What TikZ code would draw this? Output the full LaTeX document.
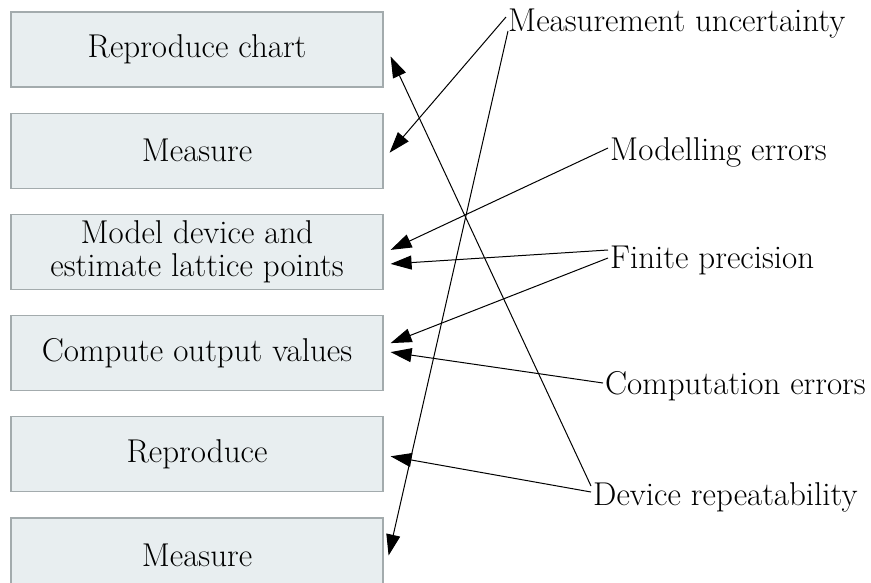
\documentclass[tikz,border=0pt]{standalone}
\usepackage{xcolor}
\definecolor{boxfill}{HTML}{E8EEF0}
\definecolor{boxedge}{HTML}{A3ABAD}
\usepackage{tikz}
\usetikzlibrary{arrows.meta,positioning}

\begin{document}
\begin{tikzpicture}[
    x=1pt, y=-1pt,
    node distance=25pt,
    stage/.style={rectangle, draw=boxedge, line width=1.2pt, fill=boxfill, minimum width=372pt, minimum height=75pt, inner sep=0pt, align=center, font=\fontsize{33}{33}\selectfont},
    cause/.style={anchor=west, inner sep=2pt, font=\fontsize{33}{33}\selectfont},
    line/.style={draw, line width=1pt, -{Triangle[length=21pt, width=14pt]}}
  ]
    \useasboundingbox (0,0) rectangle (871,582);
    \clip (0,0) rectangle (871,582);

    % Nodes - process steps
    \node [stage] at (197,49.5) (chart) {Reproduce chart};
    \node [stage, below=of chart] (meas1) {Measure};
    \node [stage, below=of meas1] (model) {Model device and\\estimate lattice points};
    \node [stage, below=of model] (comp) {Compute output values};
    \node [stage, below=of comp] (repro) {Reproduce};
    \node [stage, below=of repro] (meas2) {Measure};

    % Nodes - error sources
    \node [cause] at (506,24) (unc) {Measurement uncertainty};
    \node [cause] at (608,152) (mod) {Modelling errors};
    \node [cause] at (608,260) (fin) {Finite precision};
    \node [cause] at (603,386) (cerr) {Computation errors};
    \node [cause] at (591,497) (dev) {Device repeatability};

    % Paths
    \path [line] ([yshift=7pt]unc.west) -- ([xshift=6pt, yshift=-2pt]meas1.east);
    \path [line] ([xshift=2pt, yshift=-7pt]unc.west) -- ([xshift=5pt]meas2.east);
    \path [line] ([yshift=4pt]mod.west) -- ([xshift=7pt, yshift=2pt]model.east);
    \path [line] ([yshift=10pt]fin.west) -- ([xshift=7pt, yshift=-12pt]model.east);
    \path [line] ([yshift=2pt]fin.west) -- ([xshift=7pt, yshift=10pt]comp.east);
    \path [line] ([yshift=3pt]cerr.west) -- ([xshift=7pt, yshift=1pt]comp.east);
    \path [line] ([yshift=11pt]dev.west) -- ([xshift=7pt, yshift=-7pt]chart.east);
    \path [line] ([yshift=5pt]dev.west) -- ([xshift=7pt, yshift=-2pt]repro.east);

\end{tikzpicture}
\end{document}
